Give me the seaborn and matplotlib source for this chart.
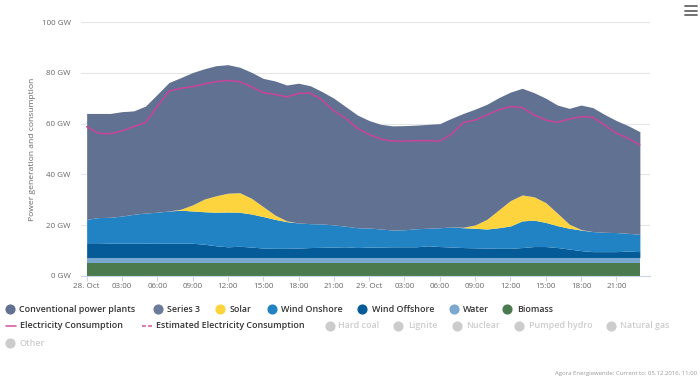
import matplotlib
matplotlib.use("Agg")
import matplotlib.pyplot as plt
import seaborn as sns
import pandas as pd
from matplotlib.lines import Line2D

# ---------------- data (GW, hourly from 28 Oct 00:00) ----------------
hours = list(range(48))
tick_hours = [0, 3, 6, 9, 12, 15, 18, 21, 24, 27, 30, 33, 36, 39, 42, 45]
tick_labels = ["28. Oct", "03:00", "06:00", "09:00", "12:00", "15:00", "18:00", "21:00",
               "29. Oct", "03:00", "06:00", "09:00", "12:00", "15:00", "18:00", "21:00"]
y_ticks = [0, 20, 40, 60, 80, 100]
y_tick_labels = ["0 GW", "20 GW", "40 GW", "60 GW", "80 GW", "100 GW"]

biomass = [5.0, 5.0, 5.0, 5.0, 5.0, 5.0, 5.0, 5.0, 5.0, 5.0, 5.0, 5.0,
           5.0, 5.0, 5.0, 5.0, 5.0, 5.0, 5.0, 5.0, 5.0, 5.0, 5.0, 5.0,
           5.0, 5.0, 5.0, 5.0, 5.0, 5.0, 5.0, 5.0, 5.0, 5.0, 5.0, 5.0,
           5.0, 5.0, 5.0, 5.0, 5.0, 5.0, 5.0, 5.0, 5.0, 5.0, 5.0, 5.0]
water = [2.3, 2.3, 2.3, 2.3, 2.3, 2.3, 2.3, 2.3, 2.3, 2.3, 2.3, 2.3,
         2.3, 2.3, 2.3, 2.3, 2.3, 2.3, 2.3, 2.3, 2.3, 2.3, 2.3, 2.3,
         2.3, 2.3, 2.3, 2.3, 2.3, 2.3, 2.3, 2.3, 2.3, 2.3, 2.3, 2.3,
         2.3, 2.3, 2.3, 2.3, 2.3, 2.3, 2.3, 2.3, 2.3, 2.3, 2.3, 2.3]
wind_offshore = [5.8, 5.8, 5.7, 5.7, 5.7, 5.7, 5.6, 5.6, 5.6, 5.6, 5.2, 4.6,
                 4.2, 4.4, 4.1, 3.7, 3.6, 3.6, 3.7, 3.9, 4.0, 4.1, 4.2, 3.9,
                 4.1, 4.1, 4.2, 4.2, 4.2, 4.6, 4.3, 4.1, 3.9, 3.8, 3.7, 3.6,
                 3.6, 3.9, 4.3, 4.3, 3.9, 3.3, 2.7, 2.3, 2.3, 2.3, 2.5, 2.3]
wind_onshore = [9.2, 9.9, 10.1, 10.6, 11.3, 11.8, 12.2, 12.7, 13.0, 12.7, 12.8, 13.2,
                13.7, 13.4, 13.0, 12.4, 11.4, 10.5, 9.9, 9.4, 9.2, 8.7, 8.1, 7.8,
                7.5, 7.1, 6.6, 6.7, 7.1, 6.9, 7.4, 7.9, 7.8, 7.7, 7.5, 8.1,
                8.8, 10.5, 10.4, 9.5, 8.6, 8.2, 8.1, 7.9, 7.6, 7.5, 7.0, 6.8]
solar = [0, 0, 0, 0, 0, 0, 0, 0, 0.4, 2.4, 5.0, 6.5,
         7.4, 7.7, 6.2, 3.9, 1.7, 0.3, 0, 0, 0, 0, 0, 0,
         0, 0, 0, 0, 0, 0, 0, 0, 0.2, 1.3, 3.8, 7.0,
         10.0, 10.2, 9.2, 7.8, 4.9, 1.6, 0.2, 0, 0, 0, 0, 0]
conventional = [41.7, 41.0, 40.9, 41.1, 40.7, 42.1, 46.4, 50.6, 51.8, 52.1, 51.3, 51.2,
                50.6, 49.4, 49.6, 50.5, 52.8, 53.5, 55.0, 54.3, 52.1, 49.9, 47.1, 44.4,
                42.3, 41.2, 41.0, 41.0, 40.8, 40.9, 41.0, 42.8, 44.8, 45.6, 45.3, 44.2,
                42.7, 42.0, 41.0, 41.1, 42.6, 45.6, 49.0, 48.8, 46.4, 44.1, 42.4, 40.4]
consumption = [58.8, 56.2, 56.0, 57.1, 58.8, 60.4, 66.7, 72.8, 73.9, 74.5, 75.6, 76.5,
               77.0, 76.5, 74.5, 72.2, 71.5, 70.5, 71.9, 72.0, 69.3, 65.0, 62.1, 58.1,
               55.7, 53.9, 53.1, 53.1, 53.3, 53.3, 53.1, 55.8, 60.4, 61.4, 63.4, 65.4,
               66.7, 66.3, 63.4, 61.4, 60.5, 61.8, 62.7, 62.5, 59.4, 56.2, 54.2, 51.6]

# ---------------- styling ----------------
C_CONV = "#617192"
C_SOLAR = "#fdd43d"
C_ONSH = "#2183c3"
C_OFFS = "#045b98"
C_WATER = "#7aa8cf"
C_BIO = "#4a7a4d"
C_CONS = "#c9449a"
C_GREY = "#cccccc"

sns.set_theme(style="white")
plt.rcParams["font.family"] = ["Open Sans", "DejaVu Sans"]

W, H = 700, 381
fig = plt.figure(figsize=(W / 100, H / 100), dpi=100)
fig.patch.set_facecolor("white")


def fx(x):
    return x / W


def fy(y):
    return 1 - y / H


ax = fig.add_axes([fx(81), fy(276), (650 - 81) / W, (276 - 22) / H])

df = pd.DataFrame({"hour": hours, "consumption": consumption})

ax.stackplot(hours, biomass, water, wind_offshore, wind_onshore, solar, conventional,
             colors=[C_BIO, C_WATER, C_OFFS, C_ONSH, C_SOLAR, C_CONV],
             linewidth=0, zorder=2)
sns.lineplot(data=df, x="hour", y="consumption", ax=ax, color=C_CONS,
             linewidth=1.1, zorder=3)

ax.set_xlim(-0.48, 47.86)
ax.set_ylim(0, 100)
ax.set_yticks(y_ticks)
ax.set_yticklabels(y_tick_labels)
ax.set_xticks(tick_hours)
ax.set_xticklabels(tick_labels)
ax.set_xlabel("")
ax.set_ylabel("")
ax.grid(axis="y", color="#e6e6e6", linewidth=0.8, zorder=0)
ax.set_axisbelow(True)
for s in ["top", "right", "left"]:
    ax.spines[s].set_visible(False)
ax.spines["bottom"].set_color("#ccd6eb")
ax.spines["bottom"].set_linewidth(0.8)
ax.tick_params(axis="y", length=0, pad=7.5, labelsize=5.8, labelcolor="#666666")
ax.tick_params(axis="x", length=3.6, width=0.8, color="#ccd6eb", pad=1.5,
               labelsize=5.8, labelcolor="#666666", bottom=True)

fig.text(fx(33), fy(149), "Power generation and consumption", rotation=90,
         ha="center", va="center", fontsize=6.1, color="#666666")

# ---------------- legend (manual, Highcharts-like) ----------------
def dot(x, y, color):
    fig.add_artist(Line2D([fx(x)], [fy(y)], marker="o", markersize=6.3,
                          markerfacecolor=color, markeredgecolor=color,
                          linestyle="none", transform=fig.transFigure))


def label(x, y, text, color="#333333"):
    fig.text(fx(x), fy(y), text, ha="left", va="center", fontsize=6.4,
             color=color, fontweight="semibold")


row1 = 309
items1 = [(10, 19, "Conventional power plants", C_CONV),
          (158, 167, "Series 3", "#6b7b9b"),
          (220, 230, "Solar", C_SOLAR),
          (272, 281, "Wind Onshore", C_ONSH),
          (362, 372, "Wind Offshore", C_OFFS),
          (454, 463, "Water", C_WATER),
          (507, 517, "Biomass", C_BIO)]
for dx, tx, t, c in items1:
    dot(dx, row1, c)
    label(tx, row1, t)

row2 = 326
fig.add_artist(Line2D([fx(6), fx(16)], [fy(row2), fy(row2)], color="#d94fa0",
                      linewidth=1.1, transform=fig.transFigure))
label(20, row2, "Electricity Consumption")
fig.add_artist(Line2D([fx(142), fx(152)], [fy(row2), fy(row2)], color="#d94fa0",
                      linewidth=1.1, linestyle=(0, (2.5, 1.5)), transform=fig.transFigure))
label(156, row2, "Estimated Electricity Consumption")
items2 = [(330, 338, "Hard coal"), (398, 408, "Lignite"), (457, 466, "Nuclear"),
          (519, 529, "Pumped hydro"), (611, 620, "Natural gas")]
for dx, tx, t in items2:
    dot(dx, row2, C_GREY)
    label(tx, row2, t, color=C_GREY)

row3 = 343
dot(10, row3, C_GREY)
label(20, row3, "Other", color=C_GREY)

fig.text(fx(697), fy(374), "Agora Energiewende; Current to: 05.12.2016, 11:00",
         ha="right", va="center", fontsize=4.3, color="#999999")

# hamburger menu icon
for yy in (6, 10.5, 15):
    fig.add_artist(Line2D([fx(685), fx(697)], [fy(yy), fy(yy)], color="#666666",
                          linewidth=1.3, solid_capstyle="round", transform=fig.transFigure))

fig.savefig("out.png", dpi=100, facecolor="white")
